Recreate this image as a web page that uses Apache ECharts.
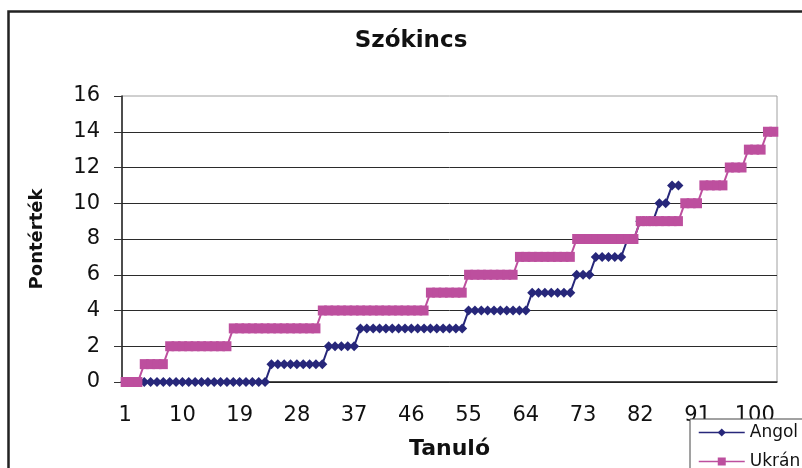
<!DOCTYPE html>
<html>
<head>
<meta charset="utf-8">
<script src="https://cdn.jsdelivr.net/npm/echarts@6/dist/echarts.min.js"></script>
<style>
  html, body { margin: 0; padding: 0; background: #fff; }
  #chart { width: 802px; height: 468px; }
</style>
</head>
<body>
<div id="chart"></div>
<script>
// Student index (Tanuló) categories
const categories = [
  1, 2, 3, 4, 5, 6, 7, 8, 9, 10, 11, 12, 13, 14, 15, 16, 17, 18, 19, 20,
  21, 22, 23, 24, 25, 26, 27, 28, 29, 30, 31, 32, 33, 34, 35, 36, 37, 38, 39, 40,
  41, 42, 43, 44, 45, 46, 47, 48, 49, 50, 51, 52, 53, 54, 55, 56, 57, 58, 59, 60,
  61, 62, 63, 64, 65, 66, 67, 68, 69, 70, 71, 72, 73, 74, 75, 76, 77, 78, 79, 80,
  81, 82, 83, 84, 85, 86, 87, 88, 89, 90, 91, 92, 93, 94, 95, 96, 97, 98, 99, 100,
  101, 102, 103
];

// Vocabulary scores, sorted ascending
const angol = [
  0, 0, 0, 0, 0, 0, 0, 0, 0, 0, 0, 0, 0, 0, 0, 0, 0, 0, 0, 0, 0, 0, 0,
  1, 1, 1, 1, 1, 1, 1, 1, 1,
  2, 2, 2, 2, 2,
  3, 3, 3, 3, 3, 3, 3, 3, 3, 3, 3, 3, 3, 3, 3, 3, 3,
  4, 4, 4, 4, 4, 4, 4, 4, 4, 4,
  5, 5, 5, 5, 5, 5, 5,
  6, 6, 6,
  7, 7, 7, 7, 7,
  8, 8,
  9, 9, 9,
  10, 10,
  11, 11
];

const ukran = [
  0, 0, 0,
  1, 1, 1, 1,
  2, 2, 2, 2, 2, 2, 2, 2, 2, 2,
  3, 3, 3, 3, 3, 3, 3, 3, 3, 3, 3, 3, 3, 3,
  4, 4, 4, 4, 4, 4, 4, 4, 4, 4, 4, 4, 4, 4, 4, 4, 4,
  5, 5, 5, 5, 5, 5,
  6, 6, 6, 6, 6, 6, 6, 6,
  7, 7, 7, 7, 7, 7, 7, 7, 7,
  8, 8, 8, 8, 8, 8, 8, 8, 8, 8,
  9, 9, 9, 9, 9, 9, 9,
  10, 10, 10,
  11, 11, 11, 11,
  12, 12, 12,
  13, 13, 13,
  14, 14
];

const FONT = 'DejaVu Sans';
const NAVY = '#27277a';
const MAGENTA = '#bd4f9e';

const chart = echarts.init(document.getElementById('chart'), null, { renderer: 'canvas' });

chart.setOption({
  animation: false,
  backgroundColor: '#ffffff',
  title: {
    text: 'Szókincs',
    left: 411,
    top: 30,
    padding: 0,
    textAlign: 'center',
    textStyle: { fontFamily: FONT, fontSize: 23, fontWeight: 'bold', color: '#111' }
  },
  graphic: [{
    type: 'rect',
    silent: true,
    z: 100,
    shape: { x: 8.5, y: 11.5, width: 1000, height: 1000 },
    style: { fill: 'none', stroke: '#222', lineWidth: 2.5 }
  }],
  legend: {
    orient: 'vertical',
    left: 690,
    top: 419,
    width: 140,
    height: 90,
    padding: [5, 6, 5, 8],
    itemWidth: 46,
    itemHeight: 10,
    itemGap: 12,
    backgroundColor: '#fff',
    borderColor: '#444',
    borderWidth: 1,
    lineStyle: { width: 1.5 },
    textStyle: { fontFamily: FONT, fontSize: 17, color: '#111' },
    data: ['Angol', 'Ukrán']
  },
  grid: {
    left: 122,
    right: 25,
    top: 96,
    bottom: 86,
    show: true,
    borderColor: '#a0a0a0',
    borderWidth: 1,
    backgroundColor: 'transparent'
  },
  xAxis: {
    type: 'category',
    data: categories,
    boundaryGap: true,
    name: 'Tanuló',
    nameLocation: 'middle',
    nameGap: 56,
    nameTextStyle: { fontFamily: FONT, fontSize: 22, fontWeight: 'bold', color: '#111' },
    axisLine: { lineStyle: { color: '#222', width: 1.5 } },
    axisTick: { interval: 0, length: 5, lineStyle: { color: '#444', width: 1 } },
    axisLabel: {
      interval: 8,
      margin: 23,
      fontFamily: FONT,
      fontSize: 21,
      color: '#111'
    },
    splitLine: { show: false }
  },
  yAxis: {
    type: 'value',
    min: 0,
    max: 16,
    interval: 2,
    name: 'Pontérték',
    nameLocation: 'middle',
    nameRotate: 90,
    nameGap: 76,
    nameTextStyle: { fontFamily: FONT, fontSize: 18, fontWeight: 'bold', color: '#111' },
    axisLine: { show: true, lineStyle: { color: '#222', width: 1.5 } },
    axisTick: { show: true, length: 8, lineStyle: { color: '#333' } },
    axisLabel: { margin: 22, padding: [6, 0, 0, 0], fontFamily: FONT, fontSize: 21, color: '#111' },
    splitLine: { show: true, showMaxLine: false, lineStyle: { color: '#2b2b2b', width: 1 } }
  },
  series: [
    {
      name: 'Angol',
      type: 'line',
      data: angol,
      symbol: 'diamond',
      symbolSize: [10, 10],
      showAllSymbol: true,
      color: NAVY,
      lineStyle: { color: NAVY, width: 2 },
      itemStyle: { color: NAVY }
    },
    {
      name: 'Ukrán',
      type: 'line',
      data: ukran,
      symbol: 'rect',
      symbolSize: [9, 10],
      showAllSymbol: true,
      color: MAGENTA,
      lineStyle: { color: MAGENTA, width: 2 },
      itemStyle: { color: MAGENTA }
    }
  ]
});
</script>
</body>
</html>
